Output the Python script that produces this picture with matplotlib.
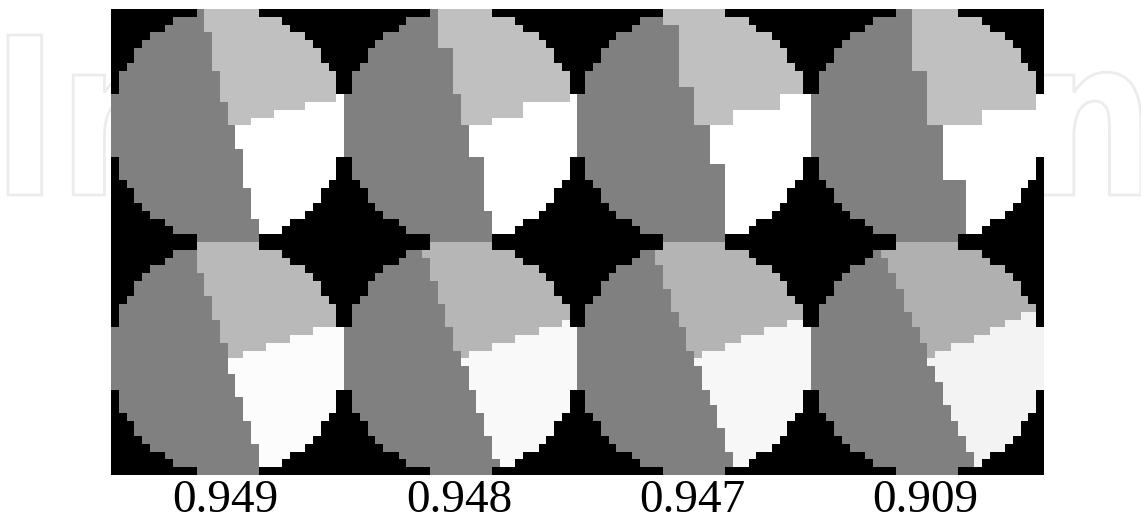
import numpy as np
import matplotlib
matplotlib.use('Agg')
import matplotlib.pyplot as plt
from matplotlib.colors import to_rgb
from matplotlib.textpath import TextPath
from matplotlib.patches import PathPatch
from matplotlib.font_manager import FontProperties
from matplotlib.transforms import Affine2D

scores = ['0.949', '0.948', '0.947', '0.909']

# dark sector: (first row, column where the dark part stops)
dark_top = [
    [(0, 12), (3, 13), (8, 14), (12, 15), (15, 16), (18, 17), (23, 18), (27, 19)],
    [(0, 12), (5, 14), (11, 15), (15, 16), (19, 18), (26, 19)],
    [(0, 11), (2, 13), (10, 15), (15, 17), (20, 19)],
    [(0, 13), (8, 15), (15, 17), (22, 20)],
]
dark_bot = [
    [(0, 11), (4, 12), (7, 13), (10, 14), (13, 15), (17, 16), (20, 17), (23, 18), (26, 19)],
    [(0, 10), (2, 11), (5, 12), (8, 13), (11, 14), (14, 15), (16, 16), (19, 17), (22, 18), (25, 19), (28, 20)],
    [(0, 10), (3, 11), (6, 12), (9, 13), (11, 14), (14, 15), (16, 16), (19, 17), (21, 18), (24, 19), (27, 20)],
    [(0, 9), (2, 10), (4, 11), (6, 12), (9, 13), (11, 14), (13, 15), (16, 16), (18, 17), (21, 18), (23, 19), (25, 20), (27, 21)],
]
# white sector: (first column, row where white begins)
white_top = [
    [(16, 15), (18, 14), (21, 13), (25, 12), (29, 11)],
    [(16, 15), (19, 14), (23, 12), (29, 11)],
    [(17, 15), (20, 13), (26, 11)],
    [(17, 15), (22, 13), (29, 11)],
]
white_bot = [
    [(15, 15), (17, 14), (20, 13), (23, 12), (26, 11)],
    [(15, 15), (16, 14), (19, 13), (22, 12), (25, 11), (28, 10)],
    [(15, 15), (16, 14), (19, 13), (21, 12), (24, 11), (27, 10)],
    [(15, 15), (16, 14), (18, 13), (21, 12), (23, 11), (25, 10), (27, 9)],
]

dark_col = '#808080'
light_top, white_top_col = '#c0c0c0', '#ffffff'
light_bot = ['#b9b9b9', '#b6b6b6', '#b4b4b4', '#b0b0b0']
white_bot_col = ['#fcfcfc', '#f9f9f9', '#f7f7f7', '#f3f3f3']

N = 30


def tile(dark_steps, white_steps):
    rr, cc = np.mgrid[0:N, 0:N]
    inside = (rr + 0.5 - N / 2) ** 2 + (cc + 0.5 - N / 2) ** 2 <= (N / 2) ** 2
    edge = np.zeros(N, dtype=int)
    for start, col in dark_steps:
        edge[start:] = col
    wtop = np.full(N, 999)
    for start, row in white_steps:
        wtop[start:] = row
    lab = np.where(cc < edge[rr], 1, np.where(rr >= wtop[cc], 3, 2))
    lab[~inside] = 0
    return lab


img = np.zeros((2 * N, 4 * N, 3))
for j in range(4):
    rows = [(dark_top[j], white_top[j], ['black', dark_col, light_top, white_top_col]),
            (dark_bot[j], white_bot[j], ['black', dark_col, light_bot[j], white_bot_col[j]])]
    for i, (d, w, pal) in enumerate(rows):
        lab = tile(d, w)
        rgb = np.array([to_rgb(c) for c in pal])
        img[i * N:(i + 1) * N, j * N:(j + 1) * N] = rgb[lab]

W, H = 1141, 522
fig = plt.figure(figsize=(W / 100, H / 100), dpi=100)

# faint watermark behind the picture
bg = fig.add_axes([0, 0, 1, 1])
bg.set_xlim(0, W)
bg.set_ylim(H, 0)
bg.axis('off')
fp = FontProperties(family='DejaVu Sans', weight='bold')
tp = TextPath((0, 0), 'IntechOpen', size=1, prop=fp)
cap = TextPath((0, 0), 'I', size=1, prop=fp).get_extents().height
ext = tp.get_extents()
sx = (W - 8) / ext.width
sy = 160 / cap
tr = Affine2D().translate(-ext.x0, 0).scale(sx, -sy).translate(8, 195)
bg.add_patch(PathPatch(tr.transform_path(tp), facecolor='white',
                       edgecolor='#ececec', lw=2))

ax = fig.add_axes([111 / W, 47 / H, 933 / W, 466 / H])
ax.imshow(img, interpolation='nearest', aspect='auto')
ax.axis('off')

for j, s in enumerate(scores):
    x = (111 + 933 * (j + 0.5) / 4 - 2) / W
    fig.text(x, 10 / H, s, ha='center', va='baseline', fontsize=34,
             family='Liberation Serif')

fig.savefig('out.png', dpi=100)
